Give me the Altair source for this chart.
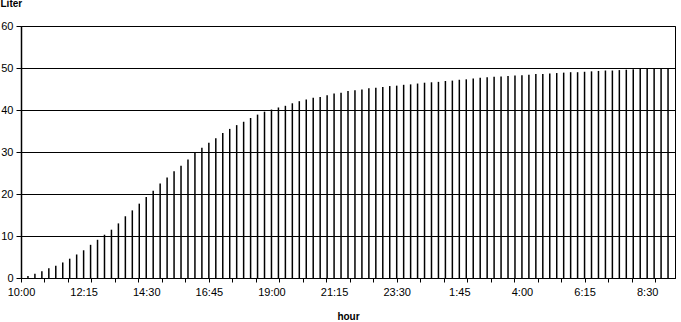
import altair as alt
import pandas as pd

# 15-minute steps starting at 10:00
times = []
h, m = 10, 0
for i in range(94):
    times.append(f"{h}:{m:02d}")
    m += 15
    if m == 60:
        m = 0
        h = (h + 1) % 24

liters = [
    0.0, 0.5, 1.0, 1.6, 2.3, 2.9, 3.7, 4.6, 5.6, 6.6,
    7.9, 9.1, 10.3, 11.5, 13.0, 14.7, 16.1, 17.7, 19.3, 20.8,
    22.5, 23.9, 25.4, 26.7, 28.2, 29.8, 31.0, 32.2, 33.3, 34.5,
    35.5, 36.4, 37.2, 38.1, 38.9, 39.6, 40.1, 40.6, 41.0, 41.6,
    42.1, 42.5, 42.9, 43.1, 43.5, 43.9, 44.1, 44.5, 44.7, 44.9,
    45.2, 45.3, 45.5, 45.7, 45.8, 46.0, 46.1, 46.3, 46.5, 46.6,
    46.7, 46.9, 47.0, 47.2, 47.3, 47.5, 47.7, 47.8, 47.9, 48.0,
    48.1, 48.2, 48.3, 48.4, 48.6, 48.6, 48.7, 48.8, 48.9, 49.0,
    49.0, 49.1, 49.2, 49.3, 49.4, 49.4, 49.5, 49.6, 49.7, 49.8,
    49.8, 49.8, 49.9, 49.9,
]

tick_labels = ["10:00", "12:15", "14:30", "16:45", "19:00", "21:15",
               "23:30", "1:45", "4:00", "6:15", "8:30"]
label_every = 9          # one label every 9 categories (2h15)
tick_step = 3.375        # minor tick spacing in categories

df = pd.DataFrame({"idx": list(range(len(liters))), "time": times, "liters": liters})

label_vals = [i * label_every for i in range(len(tick_labels))]
tick_vals = [round(k * tick_step, 3) for k in range(28)]
axis_vals = sorted(set(label_vals) | set(tick_vals))

label_arr = "[" + ",".join(f"'{t}'" for t in tick_labels) + "]"
label_expr = f"datum.value % {label_every} == 0 ? {label_arr}[datum.value / {label_every}] : ''"

FONT = "Liberation Sans"

chart = alt.Chart(df).mark_rule(color="black", strokeWidth=1.5).encode(
    x=alt.X("idx:Q",
            scale=alt.Scale(domain=[0, 94], nice=False, zero=False),
            axis=alt.Axis(values=axis_vals, labelExpr=label_expr, grid=False,
                          tickSize=4, tickColor="black", tickWidth=1,
                          tickOpacity=alt.condition(
                              f"datum.value % {label_every} != 0 || datum.value % 27 == 0",
                              alt.value(1), alt.value(0)),
                          labelOverlap=False, labelFlush=False, labelBound=False,
                          labelPadding=4, labelFontSize=11,
                          labelFont=FONT, labelColor="black",
                          domainColor="black", domainWidth=1,
                          title="hour", titleFont=FONT, titleFontSize=10,
                          titleFontWeight="bold", titleColor="black",
                          titleBaseline="alphabetic", titleY=41)),
    y=alt.Y("liters:Q",
            scale=alt.Scale(domain=[0, 60], nice=False),
            axis=alt.Axis(values=[0, 10, 20, 30, 40, 50, 60], grid=True,
                          gridColor="black", gridWidth=1, gridOpacity=1,
                          tickSize=5, tickColor="black", labelPadding=3,
                          labelFlush=False, labelBound=False,
                          labelFontSize=11, labelFont=FONT, labelColor="black",
                          domainColor="black", domainWidth=1.5,
                          title="Liter", titleAngle=0, titleFont=FONT,
                          titleFontSize=10, titleFontWeight="bold",
                          titleColor="black", titleAlign="left",
                          titleBaseline="alphabetic", titleX=-21, titleY=-20)),
    y2=alt.datum(0),
).properties(
    width=654,
    height=252,
    padding={"left": 21, "top": 26, "right": 6, "bottom": 44},
    autosize=alt.AutoSizeParams(type="none"),
    background="white",
).configure_view(stroke="black", strokeWidth=1)

chart.save("out.html", embed_options={"renderer": "svg", "actions": False})
